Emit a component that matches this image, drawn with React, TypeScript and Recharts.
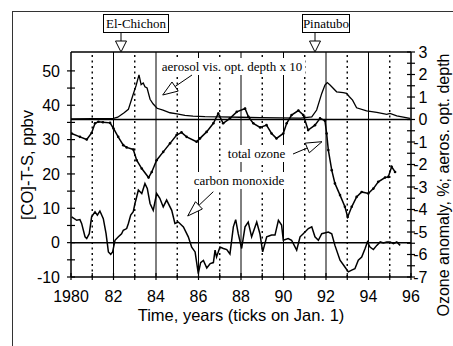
import React from 'react';
import { LineChart, Line, XAxis, YAxis, ReferenceLine } from 'recharts';

// ---- data ----
const yearTicks = [1980, 1981, 1982, 1983, 1984, 1985, 1986, 1987, 1988, 1989, 1990, 1991, 1992, 1993, 1994, 1995, 1996];
const leftTicks = [-10, -5, 0, 5, 10, 15, 20, 25, 30, 35, 40, 45, 50];
const rightTicks = [-7, -6.5, -6, -5.5, -5, -4.5, -4, -3.5, -3, -2.5, -2, -1.5, -1, -0.5, 0, 0.5, 1, 1.5, 2, 2.5, 3];

const aerosolT = [1980.0, 1981.0, 1982.0, 1982.2, 1982.5, 1982.7, 1982.92, 1983.06, 1983.2, 1983.3, 1983.4, 1983.48, 1983.58, 1983.72, 1983.86, 1984.05, 1984.33, 1984.66, 1984.99, 1985.36, 1985.74, 1986.3, 1987.0, 1987.95, 1988.9, 1989.84, 1990.8, 1991.33, 1991.56, 1991.8, 1991.95, 1992.06, 1992.19, 1992.5, 1992.81, 1992.97, 1993.1, 1993.25, 1993.44, 1993.91, 1994.39, 1994.86, 1995.01, 1995.33, 1995.95];
const aerosolV = [0.03, 0.04, 0.05, 0.1, 0.3, 0.45, 1.1, 1.5, 1.98, 1.55, 1.62, 1.45, 1.4, 0.9, 0.7, 0.5, 0.42, 0.3, 0.25, 0.18, 0.15, 0.13, 0.12, 0.1, 0.08, 0.07, 0.06, 0.12, 0.42, 1.16, 1.53, 1.64, 1.53, 1.23, 1.19, 1.16, 1.01, 0.86, 0.52, 0.38, 0.32, 0.23, 0.27, 0.16, 0.05];

const ozoneT = [1980.03, 1980.42, 1980.74, 1980.97, 1981.13, 1981.29, 1981.5, 1981.84, 1982.0, 1982.22, 1982.46, 1982.62, 1982.93, 1983.09, 1983.33, 1983.65, 1983.8, 1984.03, 1984.34, 1984.66, 1984.97, 1985.2, 1985.44, 1985.91, 1986.07, 1986.38, 1986.7, 1986.93, 1987.16, 1987.48, 1987.8, 1988.19, 1988.35, 1988.58, 1988.9, 1989.2, 1989.44, 1989.67, 1989.99, 1990.15, 1990.38, 1990.7, 1990.93, 1991.16, 1991.48, 1991.72, 1991.95, 1992.03, 1992.11, 1992.27, 1992.42, 1992.66, 1992.89, 1993.02, 1993.21, 1993.44, 1993.68, 1993.99, 1994.23, 1994.46, 1994.78, 1994.93, 1995.09, 1995.25];
const ozoneV = [-0.62, -0.77, -0.89, -0.6, -0.17, -0.1, -0.12, -0.15, -0.4, -0.77, -1.14, -1.24, -1.33, -1.81, -2.18, -2.58, -2.33, -1.81, -1.44, -1.06, -0.69, -0.57, -0.77, -0.99, -0.84, -0.55, -0.17, 0.27, -0.17, 0.05, 0.34, 0.49, 0.12, -0.17, -0.35, -0.25, -0.62, -0.84, -0.62, -0.17, 0.2, 0.4, 0.2, -0.47, -0.25, 0.05, -0.05, -0.62, -1.36, -2.25, -2.84, -3.36, -3.88, -4.33, -3.88, -3.44, -3.22, -3.29, -3.07, -2.77, -2.58, -2.55, -2.1, -2.33];

const coT = [1980.03, 1980.27, 1980.42, 1980.5, 1980.66, 1980.74, 1980.86, 1980.97, 1981.13, 1981.24, 1981.36, 1981.52, 1981.65, 1981.76, 1981.87, 1981.96, 1982.07, 1982.23, 1982.38, 1982.46, 1982.62, 1982.7, 1982.81, 1982.93, 1983.01, 1983.09, 1983.17, 1983.33, 1983.48, 1983.59, 1983.72, 1983.87, 1984.03, 1984.18, 1984.34, 1984.5, 1984.74, 1984.89, 1985.05, 1985.29, 1985.52, 1985.68, 1985.84, 1985.99, 1986.1, 1986.23, 1986.39, 1986.55, 1986.7, 1986.78, 1986.85, 1987.01, 1987.17, 1987.33, 1987.48, 1987.64, 1987.75, 1987.87, 1988.03, 1988.19, 1988.34, 1988.5, 1988.74, 1988.89, 1989.02, 1989.21, 1989.44, 1989.6, 1989.76, 1989.91, 1989.99, 1990.22, 1990.38, 1990.62, 1990.78, 1990.93, 1991.17, 1991.33, 1991.48, 1991.64, 1991.8, 1992.11, 1992.27, 1992.42, 1992.66, 1992.89, 1993.05, 1993.21, 1993.36, 1993.52, 1993.68, 1993.84, 1993.95, 1994.07, 1994.23, 1994.39, 1994.55, 1994.7, 1994.86, 1995.02, 1995.17, 1995.33, 1995.49];
const coV = [7.5, 6.5, 6.7, 5.6, 1.7, 1.2, 2.6, 7.5, 9.0, 8.0, 9.2, 7.0, 2.6, -2.7, -3.4, -2.7, 0.7, 1.7, 2.6, 3.6, 4.1, 5.6, 8.0, 9.0, 11.4, 13.3, 15.3, 14.3, 17.2, 15.8, 11.4, 9.4, 14.3, 12.9, 10.4, 12.4, 9.4, 5.6, 6.0, 4.6, 1.7, -1.3, -2.7, -9.0, -5.8, -5.2, -7.4, -6.1, -5.8, -2.2, -4.2, -1.3, -1.7, -2.0, -3.3, 4.6, 6.7, 2.6, -1.7, 4.6, 6.0, 1.7, 6.0, 2.6, -2.7, 1.7, 2.2, 2.2, 6.5, 5.1, 0.7, 1.2, 0.7, -2.2, 1.7, 2.6, 4.1, 4.6, 1.7, 0.7, 2.6, 3.1, 2.6, -0.8, -5.1, -7.1, -8.5, -8.0, -7.6, -5.1, -4.2, -1.7, 0.2, -1.3, -2.0, -0.8, 0.2, -0.1, 0.2, 0.2, -0.3, 0.2, -0.8];

const aerosolData = aerosolT.map((t, i) => ({ t, v: aerosolV[i] }));
const ozoneData = ozoneT.map((t, i) => ({ t, v: ozoneV[i] }));
const coData = coT.map((t, i) => ({ t, v: coV[i] }));

const SANS = 'Liberation Sans, Arial, sans-serif';
const SERIF = 'Liberation Serif, Times New Roman, serif';

const XTick = (props: any) => {
  const { x, y, payload } = props;
  const v = payload.value as number;
  return (
    <g>
      <line x1={x} x2={x} y1={y - 4} y2={y + 3} stroke="#000" strokeWidth={1.2} />
      {v % 2 === 0 ? (
        <text x={x} y={y + 25} textAnchor="middle" fontFamily={SANS} fontSize={16} fill="#000">
          {v === 1980 ? '1980' : String(v - 1900)}
        </text>
      ) : null}
    </g>
  );
};

const LeftTick = (props: any) => {
  const { x, y, payload } = props;
  const v = payload.value as number;
  return (
    <g>
      <line x1={x - 4} x2={x + 4} y1={y} y2={y} stroke="#000" strokeWidth={1.2} />
      {v % 10 === 0 ? (
        <text x={x - 11} y={y + 5.7} textAnchor="end" fontFamily={SANS} fontSize={16} fill="#000">
          {String(v)}
        </text>
      ) : null}
    </g>
  );
};

const RightTick = (props: any) => {
  const { x, y, payload } = props;
  const v = payload.value as number;
  return (
    <g>
      <line x1={x - 4} x2={x + 4} y1={y} y2={y} stroke="#000" strokeWidth={1.2} />
      {Number.isInteger(v) ? (
        <text x={x + 16.5} y={y + 5.7} textAnchor="end" fontFamily={SANS} fontSize={16} fill="#000">
          {String(v)}
        </text>
      ) : null}
    </g>
  );
};

function arrowHead(tail: [number, number], tip: [number, number], len: number, w: number) {
  const dx = tip[0] - tail[0];
  const dy = tip[1] - tail[1];
  const d = Math.sqrt(dx * dx + dy * dy);
  const ux = dx / d, uy = dy / d;
  const bx = tip[0] - ux * len, by = tip[1] - uy * len;
  const px = -uy, py = ux;
  const pts = `${tip[0]},${tip[1]} ${bx + px * w / 2},${by + py * w / 2} ${bx - px * w / 2},${by - py * w / 2}`;
  return { pts, bx, by };
}

const Arrow = ({ tail, tip, len, w }: { tail: [number, number]; tip: [number, number]; len: number; w: number }) => {
  const h = arrowHead(tail, tip, len, w);
  return (
    <g>
      <line x1={tail[0]} y1={tail[1]} x2={h.bx} y2={h.by} stroke="#000" strokeWidth={1} />
      <polygon points={h.pts} fill="#fff" stroke="#000" strokeWidth={1} />
    </g>
  );
};

const oddYears = [1981, 1983, 1985, 1987, 1989, 1991, 1993, 1995];
const evenYears = [1982, 1984, 1986, 1988, 1990, 1992, 1994];

export default function App() {
  return (
    <div style={{ position: 'absolute', left: 0, top: 0, width: 453, height: 346, background: '#fff' }}>
      <LineChart width={453} height={346} margin={{ top: 52, right: 0, bottom: 0, left: 0 }}>
        <XAxis
          type="number"
          dataKey="t"
          domain={[1980, 1996]}
          ticks={yearTicks}
          height={69}
          tick={(p: any) => <XTick {...p} />}
          tickLine={false}
          tickSize={0}
          tickMargin={0}
          interval={0}
          axisLine={{ stroke: '#000', strokeWidth: 1.5 }}
          allowDataOverflow
        />
        <YAxis
          yAxisId="left"
          orientation="left"
          width={71}
          domain={[-10, 55.5]}
          ticks={leftTicks}
          tick={(p: any) => <LeftTick {...p} />}
          tickLine={false}
          tickSize={0}
          tickMargin={0}
          interval={0}
          axisLine={{ stroke: '#000', strokeWidth: 1.5 }}
          allowDataOverflow
        />
        <YAxis
          yAxisId="right"
          orientation="right"
          width={42}
          domain={[-7, 3]}
          ticks={rightTicks}
          tick={(p: any) => <RightTick {...p} />}
          tickLine={false}
          tickSize={0}
          tickMargin={0}
          interval={0}
          axisLine={{ stroke: '#000', strokeWidth: 1.5 }}
          allowDataOverflow
        />
        {oddYears.map((yr) => (
          <ReferenceLine key={'o' + yr} x={yr} yAxisId="left" stroke="#000" strokeWidth={1.4} strokeDasharray="2 3.5" />
        ))}
        {evenYears.map((yr) => (
          <ReferenceLine key={'e' + yr} x={yr} yAxisId="left" stroke="#000" strokeWidth={1} />
        ))}
        <ReferenceLine y={55.5} yAxisId="left" stroke="#000" strokeWidth={1.5} />
        <ReferenceLine y={0} yAxisId="left" stroke="#000" strokeWidth={1.5} />
        <ReferenceLine y={0} yAxisId="right" stroke="#000" strokeWidth={1.5} />
        <Line data={aerosolData} dataKey="v" yAxisId="right" type="linear" stroke="#000" strokeWidth={1.3} dot={false} activeDot={false} isAnimationActive={false} />
        <Line data={ozoneData} dataKey="v" yAxisId="right" type="linear" stroke="#000" strokeWidth={1.5} dot={{ r: 1.3, fill: '#000', stroke: 'none' }} activeDot={false} isAnimationActive={false} />
        <Line data={coData} dataKey="v" yAxisId="left" type="linear" stroke="#000" strokeWidth={1.5} dot={false} activeDot={false} isAnimationActive={false} />
      </LineChart>
      <svg width={453} height={346} style={{ position: 'absolute', left: 0, top: 0, pointerEvents: 'none' }}>
        {/* frame */}
        <line x1={12.5} y1={11} x2={12.5} y2={346} stroke="#333" strokeWidth={1} />
        <line x1={12} y1={11.5} x2={453} y2={11.5} stroke="#333" strokeWidth={1} />
        {/* El-Chichon */}
        <rect x={103.5} y={14.5} width={65} height={18} fill="#fff" stroke="#000" strokeWidth={1} />
        <text x={136} y={27.5} textAnchor="middle" fontFamily={SERIF} fontSize={13} fill="#000">El-Chichon</text>
        <line x1={121} y1={32.5} x2={121} y2={41} stroke="#000" strokeWidth={1} />
        <polygon points="115.5,41 126.5,41 121,52" fill="#fff" stroke="#000" strokeWidth={1} />
        {/* Pinatubo */}
        <rect x={302.5} y={14.5} width={47} height={18} fill="#fff" stroke="#000" strokeWidth={1} />
        <text x={326} y={27.5} textAnchor="middle" fontFamily={SERIF} fontSize={13} fill="#000">Pinatubo</text>
        <line x1={315} y1={32.5} x2={315} y2={41} stroke="#000" strokeWidth={1} />
        <polygon points="309.5,41 320.5,41 315,52" fill="#fff" stroke="#000" strokeWidth={1} />
        {/* series labels */}
        <rect x={159} y={58} width={146} height={17} fill="#fff" />
        <text x={232} y={71} textAnchor="middle" fontFamily={SERIF} fontSize={13} fill="#000">aerosol vis. opt. depth x 10</text>
        <Arrow tail={[192, 75]} tip={[162.7, 95]} len={15} w={11} />
        <rect x={225} y={145} width={63} height={17} fill="#fff" />
        <text x={256.5} y={157.5} textAnchor="middle" fontFamily={SERIF} fontSize={13} fill="#000">total ozone</text>
        <Arrow tail={[293, 154]} tip={[322, 141.7]} len={16} w={10.5} />
        <rect x={191} y={172} width={96} height={17} fill="#fff" />
        <text x={239} y={185} textAnchor="middle" fontFamily={SERIF} fontSize={13} fill="#000">carbon monoxide</text>
        <Arrow tail={[213.3, 191.7]} tip={[187.7, 216]} len={15.5} w={10} />
        {/* axis titles */}
        <text x={241} y={320.5} textAnchor="middle" fontFamily={SANS} fontSize={16.5} fill="#000">Time, years (ticks on Jan. 1)</text>
        <text x={33} y={165} transform="rotate(-90 33 165)" textAnchor="middle" fontFamily={SANS} fontSize={16.5} fill="#000">[CO]-T-S, ppbv</text>
        <text x={449} y={185} transform="rotate(-90 449 185)" textAnchor="middle" fontFamily={SANS} fontSize={16} fill="#000">Ozone anomaly, %; aeros. opt. depth</text>
      </svg>
    </div>
  );
}
